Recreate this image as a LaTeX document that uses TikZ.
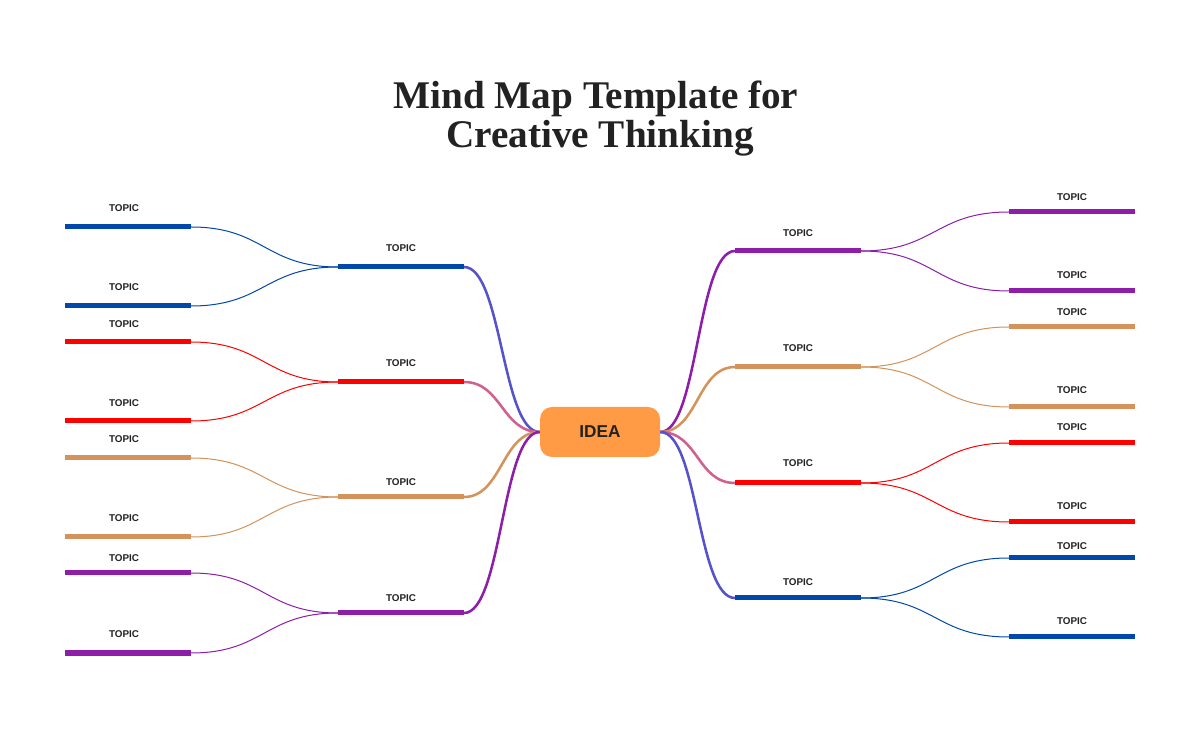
\documentclass[tikz,border=0pt]{standalone}
\usepackage{fontspec}
\setmainfont{Liberation Sans}
\newfontfamily\titlefont{Liberation Serif}
\usetikzlibrary{calc}
\definecolor{cblue}{HTML}{0048AA}
\definecolor{cred}{HTML}{FF0000}
\definecolor{ctan}{HTML}{D4935A}
\definecolor{cpurple}{HTML}{8E1DAA}
\definecolor{mblue}{HTML}{5552CC}
\definecolor{mred}{HTML}{D0608F}
\definecolor{corange}{HTML}{FF9A45}
\definecolor{ctext}{HTML}{222222}
\tikzset{
  bar/.style={line width=3.75pt},
  lbl/.style={font=\bfseries\fontsize{7.4}{8}\selectfont, text=ctext, inner sep=0pt},
  ttl/.style={font=\titlefont\bfseries\fontsize{29.4}{30}\selectfont, text=ctext, inner sep=0pt, anchor=base},
  mainconn/.style={line width=1.9pt},
  leafconn/.style={line width=0.75pt},
  idea/.style={fill=corange, rounded corners=9pt, minimum width=90pt, minimum height=37.5pt, text=ctext, font=\bfseries\fontsize{12.9}{14}\selectfont, inner sep=0pt},
}
\begin{document}
\begin{tikzpicture}[x=0.75pt,y=-0.75pt]
\useasboundingbox[fill=white] (0,0) rectangle (1200,730);
% title
\node[ttl] (title1) at (596,109) {Mind Map Template for};
\node[ttl] (title2) at (600,148) {Creative Thinking};
% center
\node[idea] (idea) at (600,432) {IDEA};
% coordinates
\foreach \n/\y in {L1/267,L2/382,L3/497,L4/613}{
  \coordinate (\n a) at (338,\y); \coordinate (\n b) at (464,\y);}
\foreach \n/\y in {R1/251,R2/367,R3/483,R4/598}{
  \coordinate (\n a) at (735,\y); \coordinate (\n b) at (861,\y);}
\foreach \n/\y in {L1u/227,L1d/306,L2u/342,L2d/421,L3u/458,L3d/537,L4u/573,L4d/653}{
  \coordinate (\n a) at (65,\y); \coordinate (\n b) at (191,\y);}
\foreach \n/\y in {R1u/212,R1d/291,R2u/327,R2d/407,R3u/443,R3d/522,R4u/558,R4d/637}{
  \coordinate (\n a) at (1009,\y); \coordinate (\n b) at (1135,\y);}
% main connectors
\foreach \n/\c in {L1/mblue,L2/mred,L3/ctan,L4/cpurple}{
  \draw[mainconn,\c] (\n b) .. controls +(38,0) and ($(idea.west)+(-38,0)$) .. (idea.west);}
\foreach \n/\c in {R1/cpurple,R2/ctan,R3/mred,R4/mblue}{
  \draw[mainconn,\c] (\n a) .. controls +(-38,0) and ($(idea.east)+(38,0)$) .. (idea.east);}
% leaf connectors
\foreach \n/\c in {L1/cblue,L2/cred,L3/ctan,L4/cpurple}{
  \draw[leafconn,\c] (\n a) .. controls +(-73,0) and ($(\n ub)+(73,0)$) .. (\n ub);
  \draw[leafconn,\c] (\n a) .. controls +(-73,0) and ($(\n db)+(73,0)$) .. (\n db);}
\foreach \n/\c in {R1/cpurple,R2/ctan,R3/cred,R4/cblue}{
  \draw[leafconn,\c] (\n b) .. controls +(74,0) and ($(\n ua)+(-74,0)$) .. (\n ua);
  \draw[leafconn,\c] (\n b) .. controls +(74,0) and ($(\n da)+(-74,0)$) .. (\n da);}
% bars
\foreach \n/\c in {L1/cblue,L2/cred,L3/ctan,L4/cpurple,R1/cpurple,R2/ctan,R3/cred,R4/cblue,
  L1u/cblue,L1d/cblue,L2u/cred,L2d/cred,L3u/ctan,L3d/ctan,L4u/cpurple,L4d/cpurple,
  R1u/cpurple,R1d/cpurple,R2u/ctan,R2d/ctan,R3u/cred,R3d/cred,R4u/cblue,R4d/cblue}{
  \draw[bar,\c] (\n a) -- (\n b);}
% labels
\foreach \n/\y in {L1/248,L2/363,L3/482,L4/598}{
  \node[lbl] (\n t) at (401,\y) {TOPIC};}
\foreach \n/\y in {R1/233,R2/348,R3/463,R4/582}{
  \node[lbl] (\n t) at (798,\y) {TOPIC};}
\foreach \n/\y in {L1u/208,L1d/287,L2u/324,L2d/403,L3u/439,L3d/518,L4u/558,L4d/634}{
  \node[lbl] (\n t) at (124,\y) {TOPIC};}
\foreach \n/\y in {R1u/197,R1d/275,R2u/312,R2d/390,R3u/427,R3d/506,R4u/546,R4d/621}{
  \node[lbl] (\n t) at (1072,\y) {TOPIC};}
\end{tikzpicture}
\end{document}
